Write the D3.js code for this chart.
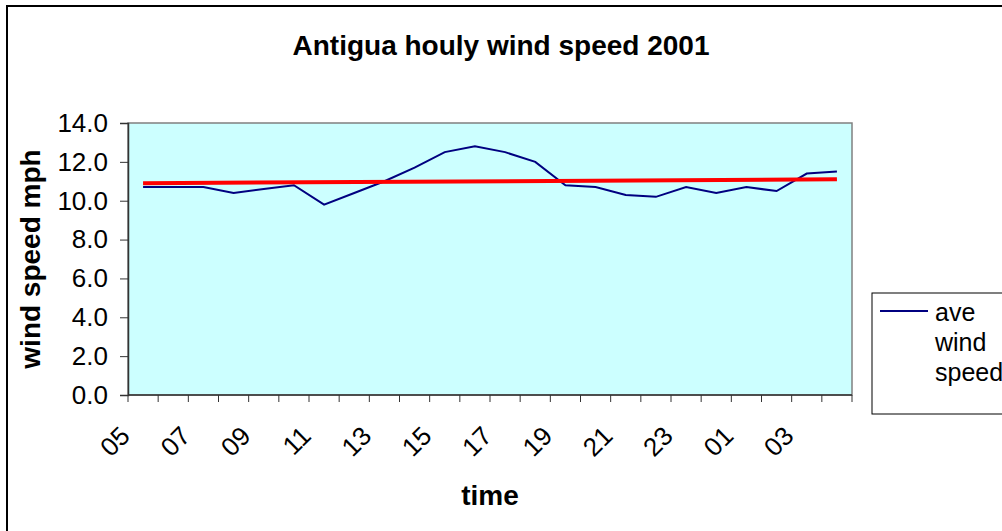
<!DOCTYPE html>
<html>
<head>
<meta charset="utf-8">
<script src="https://cdn.jsdelivr.net/npm/d3@7"></script>
<style>
body { margin: 0; background: #fff; }
text { font-family: "Liberation Sans", Arial, sans-serif; }
</style>
</head>
<body>
<script>
// hours of the day, starting at 05
var hours = ["05","06","07","08","09","10","11","12","13","14","15","16",
             "17","18","19","20","21","22","23","00","01","02","03","04"];
// ave wind speed (mph) per hour
var windSpeed = [10.7,10.7,10.7,10.4,10.6,10.8,9.8,10.4,11.0,11.7,12.5,12.8,
                 12.5,12.0,10.8,10.7,10.3,10.2,10.7,10.4,10.7,10.5,11.4,11.5];
// linear trend line, value at first and last hour
var trend = [10.9, 11.1];
var yTicks = [0,2,4,6,8,10,12,14];

var w = 1002, h = 531;
var pLeft = 128, pRight = 852, pTop = 123, pBottom = 395;

var svg = d3.select("body").append("svg").attr("width", w).attr("height", h);

// outer chart border (right & bottom fall outside the picture)
svg.append("rect").attr("x", 7).attr("y", 6).attr("width", 1010).attr("height", 540)
  .attr("fill", "#fff").attr("stroke", "#000").attr("stroke-width", 2);

var x = d3.scaleBand().domain(hours).range([pLeft, pRight]);
var y = d3.scaleLinear().domain([0, 14]).range([pBottom, pTop]);

// plot area
svg.append("rect").attr("x", pLeft).attr("y", pTop)
  .attr("width", pRight - pLeft).attr("height", pBottom - pTop)
  .attr("fill", "#CCFFFF").attr("stroke", "#808080").attr("stroke-width", 1.5);

// y axis
var yAxis = svg.append("g").attr("transform", "translate(" + pLeft + ",0)")
  .call(d3.axisLeft(y).tickValues(yTicks).tickSize(8).tickPadding(12)
    .tickFormat(d3.format(".1f")));
yAxis.select(".domain").attr("stroke", "#333").attr("stroke-width", 1.5);
yAxis.selectAll(".tick line").attr("stroke", "#333");
yAxis.selectAll("text").attr("font-size", "26px").attr("fill", "#000")
  .style("font-family", "Liberation Sans, Arial, sans-serif");

// x axis: ticks on band edges
var edges = hours.map(function(d){ return x(d); }).concat([pRight]);
var xg = svg.append("g");
xg.append("line").attr("x1", pLeft).attr("x2", pRight).attr("y1", pBottom).attr("y2", pBottom)
  .attr("stroke", "#333").attr("stroke-width", 1.5);
xg.selectAll("line.tk").data(edges).enter().append("line").attr("class", "tk")
  .attr("x1", function(d){ return d; }).attr("x2", function(d){ return d; })
  .attr("y1", pBottom).attr("y2", pBottom + 7).attr("stroke", "#333");
xg.selectAll("text").data(hours.filter(function(d, i){ return i % 2 == 0; }))
  .enter().append("text")
  .attr("transform", function(d){
    return "translate(" + (x(d) + x.bandwidth() / 2 - 18) + "," + (pBottom + 36) + ") rotate(-45)";
  })
  .attr("text-anchor", "end").attr("dy", "0.35em").attr("font-size", "26px")
  .text(function(d){ return d; });

// series line
var cx = function(d, i){ return x(hours[i]) + x.bandwidth() / 2; };
svg.append("path").datum(windSpeed)
  .attr("d", d3.line().x(cx).y(function(d){ return y(d); }))
  .attr("fill", "none").attr("stroke", "#000080").attr("stroke-width", 2);

// trend line
svg.append("line")
  .attr("x1", x(hours[0]) + x.bandwidth() / 2).attr("y1", y(trend[0]))
  .attr("x2", x(hours[hours.length - 1]) + x.bandwidth() / 2).attr("y2", y(trend[1]))
  .attr("stroke", "#FF0000").attr("stroke-width", 4);

// title & axis labels
svg.append("text").attr("x", 501).attr("y", 55).attr("text-anchor", "middle")
  .attr("font-size", "28px").attr("font-weight", "bold")
  .text("Antigua houly wind speed 2001");
svg.append("text").attr("x", 490).attr("y", 505).attr("text-anchor", "middle")
  .attr("font-size", "28px").attr("font-weight", "bold").text("time");
svg.append("text").attr("transform", "translate(30," + ((pTop + pBottom) / 2) + ") rotate(-90)")
  .attr("text-anchor", "middle").attr("dy", "0.35em").attr("font-size", "28px").attr("font-weight", "bold")
  .text("wind speed mph");

// legend
var lg = svg.append("g");
lg.append("rect").attr("x", 872).attr("y", 293).attr("width", 200).attr("height", 121)
  .attr("fill", "#fff").attr("stroke", "#000").attr("stroke-width", 1);
lg.append("line").attr("x1", 880).attr("x2", 928).attr("y1", 311).attr("y2", 311)
  .attr("stroke", "#000080").attr("stroke-width", 2);
["ave", "wind", "speed"].forEach(function(t, i){
  lg.append("text").attr("x", 935).attr("y", 312 + i * 30).attr("dy", "0.35em")
    .attr("font-size", "25px").text(t);
});
</script>
</body>
</html>
